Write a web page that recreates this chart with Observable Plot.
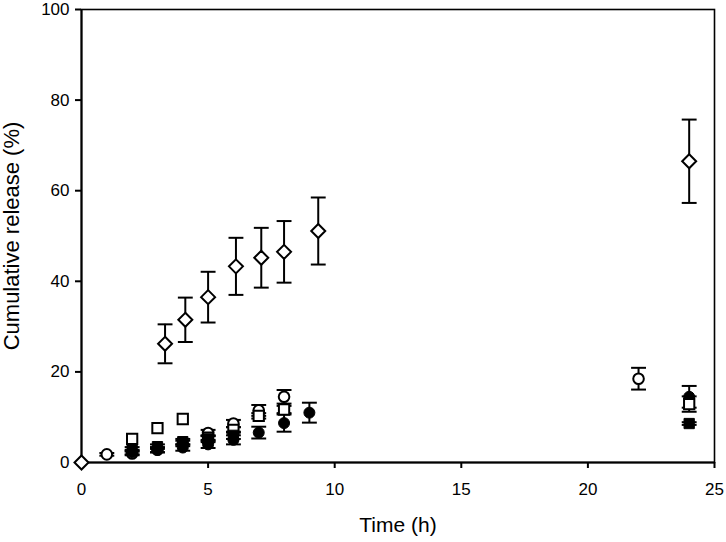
<!DOCTYPE html>
<html>
<head>
<meta charset="utf-8">
<script src="https://cdn.jsdelivr.net/npm/d3@7"></script>
<script src="https://cdn.jsdelivr.net/npm/@observablehq/plot@0.6"></script>
<style>
  html, body { margin: 0; padding: 0; background: #fff; }
  #chart { width: 726px; height: 542px; }
</style>
</head>
<body>
<div id="chart"></div>
<script>
// ---- data ----
const diamondTime = [0, 3.3, 4.1, 5.0, 6.1, 7.1, 8.0, 9.35, 24];
const diamondMean = [0, 26.2, 31.5, 36.5, 43.3, 45.2, 46.5, 51.1, 66.5];
const diamondSD   = [0, 4.3, 4.9, 5.6, 6.3, 6.6, 6.8, 7.4, 9.2];

const openCircleTime = [1, 2, 3, 4, 5, 6, 7, 8, 22];
const openCircleMean = [1.8, 2.0, 2.8, 4.2, 6.5, 8.6, 11.5, 14.5, 18.5];
const openCircleSD   = [0.3, 0.4, 0.5, 0.6, 0.7, 0.8, 1.2, 1.5, 2.4];

const openSquareTime = [2, 3, 4, 5, 6, 7, 8, 24];
const openSquareMean = [5.2, 7.6, 9.6, 5.5, 7.2, 10.3, 11.7, 12.9];
const openSquareSD   = [0, 0, 0, 0.5, 0.6, 0.6, 0.8, 1.7];

const filledCircleTime = [2, 3, 4, 5, 6, 7, 8, 9, 24];
const filledCircleMean = [2.3, 2.8, 3.3, 4.0, 5.0, 6.6, 8.7, 11.0, 14.5];
const filledCircleSD   = [0.5, 0.6, 0.7, 0.8, 1.0, 1.3, 1.9, 2.2, 2.4];

const filledSquareTime = [2, 3, 4, 5, 6, 24];
const filledSquareMean = [3.0, 3.5, 4.6, 5.2, 6.0, 8.6];
const filledSquareSD   = [0.4, 0.5, 0.6, 0.7, 0.8, 0.3];

const xTicks = [0, 5, 10, 15, 20, 25];
const yTicks = [0, 20, 40, 60, 80, 100];

// ---- build tables ----
function rows(times, means, sds) {
  return times.map((t, i) => ({t, m: means[i], lo: means[i] - sds[i], hi: means[i] + sds[i]}));
}
const diamond = rows(diamondTime, diamondMean, diamondSD);
const openCircle = rows(openCircleTime, openCircleMean, openCircleSD);
const openSquare = rows(openSquareTime, openSquareMean, openSquareSD);
const filledCircle = rows(filledCircleTime, filledCircleMean, filledCircleSD);
const filledSquare = rows(filledSquareTime, filledSquareMean, filledSquareSD);

// horizontal cap symbol for error bars
const capSymbol = {
  draw(ctx, size) {
    const w = Math.sqrt(size);
    ctx.moveTo(-w, 0);
    ctx.lineTo(w, 0);
  }
};

function errorMarks(data) {
  const withBars = data.filter(d => d.hi - d.lo > 0);
  return [
    Plot.ruleX(withBars, {x: "t", y1: "lo", y2: "hi", stroke: "black", strokeWidth: 2}),
    Plot.dot(withBars, {x: "t", y: "hi", symbol: capSymbol, r: 4.2, stroke: "black", strokeWidth: 2, fill: "none"}),
    Plot.dot(withBars, {x: "t", y: "lo", symbol: capSymbol, r: 4.2, stroke: "black", strokeWidth: 2, fill: "none"})
  ];
}

const chart = Plot.plot({
  width: 726,
  height: 542,
  marginLeft: 81,
  marginRight: 12,
  marginTop: 9,
  marginBottom: 80,
  style: {fontFamily: "'Liberation Sans', Arial, sans-serif", background: "white", color: "black", overflow: "visible"},
  x: {domain: [0, 25]},
  y: {domain: [0, 100]},
  marks: [
    Plot.frame({stroke: "black", strokeWidth: 1.6}),
    Plot.axisX({ticks: xTicks, tickSize: 6, tickPadding: 14, fontSize: 17, label: null, strokeWidth: 2, tickFormat: d => String(d)}),
    Plot.axisY({ticks: yTicks, tickSize: 6, tickPadding: 6, fontSize: 17, label: null, strokeWidth: 2, tickFormat: d => String(d)}),
    Plot.ruleY([0], {stroke: "black", strokeWidth: 2}),
    Plot.ruleX([0], {stroke: "black", strokeWidth: 2}),
    Plot.text(["Time (h)"], {frameAnchor: "bottom", textAnchor: "middle", dy: 69, fontSize: 21, fill: "black"}),
    Plot.text(["Cumulative release (%)"], {frameAnchor: "left", textAnchor: "middle", dx: -70, rotate: -90, fontSize: 22, fill: "black"}),
    ...errorMarks(diamond),
    ...errorMarks(openCircle),
    ...errorMarks(openSquare),
    ...errorMarks(filledCircle),
    ...errorMarks(filledSquare),
    Plot.dot(diamond, {x: "t", y: "m", symbol: "diamond2", r: 6.3, fill: "white", stroke: "black", strokeWidth: 2}),
    Plot.dot(openCircle, {x: "t", y: "m", symbol: "circle", r: 5.3, fill: "white", stroke: "black", strokeWidth: 2}),
    Plot.dot(filledCircle, {x: "t", y: "m", symbol: "circle", r: 5.5, fill: "black", stroke: "black", strokeWidth: 1}),
    Plot.dot(openSquare, {x: "t", y: "m", symbol: "square", r: 5.8, fill: "white", stroke: "black", strokeWidth: 2}),
    Plot.dot(filledSquare, {x: "t", y: "m", symbol: "square", r: 5.8, fill: "black", stroke: "black", strokeWidth: 1})
  ]
});
document.getElementById("chart").appendChild(chart);
</script>
</body>
</html>
